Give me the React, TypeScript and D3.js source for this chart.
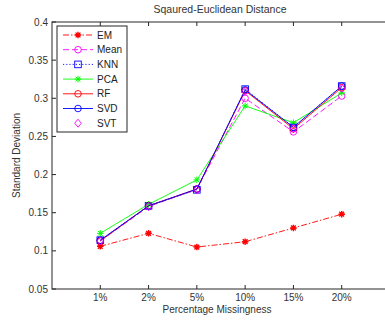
import * as d3 from "d3";

const categories = ["1%", "2%", "5%", "10%", "15%", "20%"];
const yTicks = [0.05, 0.1, 0.15, 0.2, 0.25, 0.3, 0.35, 0.4];

const emValues = [0.106, 0.123, 0.105, 0.112, 0.13, 0.148];
const meanValues = [0.113, 0.158, 0.181, 0.3, 0.256, 0.303];
const knnValues = [0.114, 0.159, 0.18, 0.312, 0.262, 0.316];
const pcaValues = [0.123, 0.161, 0.193, 0.29, 0.268, 0.307];
const rfValues = [0.113, 0.159, 0.181, 0.31, 0.26, 0.314];
const svdValues = [0.114, 0.159, 0.181, 0.311, 0.262, 0.316];
const svtValues = [0.113, 0.158, 0.18, 0.309, 0.26, 0.313];

type Marker = "star" | "circle" | "square" | "pstar" | "diamond";
type Series = { name: string; values: number[]; color: string; dash: string | null; marker: Marker };

const series: Series[] = [
  { name: "EM", values: emValues, color: "#ff0000", dash: "6,2,1.5,2", marker: "star" },
  { name: "Mean", values: meanValues, color: "#ff00ff", dash: "6,3", marker: "circle" },
  { name: "KNN", values: knnValues, color: "#0000ff", dash: "1.2,2", marker: "square" },
  { name: "PCA", values: pcaValues, color: "#00ff00", dash: null, marker: "pstar" },
  { name: "RF", values: rfValues, color: "#ff0000", dash: null, marker: "circle" },
  { name: "SVD", values: svdValues, color: "#0000ff", dash: null, marker: "circle" },
  { name: "SVT", values: svtValues, color: "#ff00ff", dash: "none", marker: "diamond" },
];

const font = "'Liberation Sans', Arial, sans-serif";
const axisColor = "#262626";

function MarkerShape({ kind, x, y, color }: { kind: Marker; x: number; y: number; color: string }) {
  if (kind === "circle") return <circle cx={x} cy={y} r={3.3} fill="none" stroke={color} strokeWidth={0.9} />;
  if (kind === "square") return <rect x={x - 3.3} y={y - 3.3} width={6.6} height={6.6} fill="none" stroke={color} strokeWidth={0.9} />;
  if (kind === "diamond")
    return <path d={`M${x},${y - 4}L${x + 3.3},${y}L${x},${y + 4}L${x - 3.3},${y}Z`} fill="none" stroke={color} strokeWidth={0.9} />;
  // asterisk markers
  const r = 3.3;
  const d = r * 0.72;
  return (
    <path
      d={`M${x - r},${y}L${x + r},${y}M${x},${y - r}L${x},${y + r}M${x - d},${y - d}L${x + d},${y + d}M${x - d},${y + d}L${x + d},${y - d}`}
      stroke={color}
      strokeWidth={kind === "star" ? 1.4 : 1}
      fill="none"
    />
  );
}

export default function App() {
  const width = 385;
  const height = 322;
  const left = 52;
  const right = 390;
  const top = 22;
  const bottom = 289;

  const x = d3.scaleLinear().domain([0, 7]).range([left, right]);
  const y = d3.scaleLinear().domain([0.05, 0.4]).range([bottom, top]);

  const line = d3
    .line<number>()
    .x((_, i) => x(i + 1))
    .y((v) => y(v));

  const legendX = 57;
  const legendY = 26;
  const legendRow = 14.7;

  return (
    <svg width={width} height={height} style={{ position: "absolute", left: 0, top: 0, background: "#fff" }} fontFamily={font}>
      <text x={220} y={13} textAnchor="middle" fontSize={10.5} fill="#333">
        Sqaured-Euclidean Distance
      </text>

      {/* axes box */}
      <rect x={left} y={top} width={right - left} height={bottom - top} fill="none" stroke={axisColor} strokeWidth={1} />

      {yTicks.map((t) => (
        <g key={t}>
          <line x1={left} x2={left + 4} y1={y(t)} y2={y(t)} stroke={axisColor} />
          <line x1={right} x2={right - 4} y1={y(t)} y2={y(t)} stroke={axisColor} />
          <text x={left - 4} y={y(t) + 3.5} textAnchor="end" fontSize={10} fill="#333">
            {String(t)}
          </text>
        </g>
      ))}

      {categories.map((c, i) => (
        <g key={c}>
          <line x1={x(i + 1)} x2={x(i + 1)} y1={bottom} y2={bottom - 4} stroke={axisColor} />
          <line x1={x(i + 1)} x2={x(i + 1)} y1={top} y2={top + 4} stroke={axisColor} />
          <text x={x(i + 1)} y={bottom + 12} textAnchor="middle" fontSize={10} fill="#333">
            {c}
          </text>
        </g>
      ))}

      <text x={217} y={313} textAnchor="middle" fontSize={10} fill="#333">
        Percentage Missingness
      </text>
      <text transform={`translate(20,${(top + bottom) / 2}) rotate(-90)`} textAnchor="middle" fontSize={10} fill="#333">
        Standard Deviation
      </text>

      {series.map((s) => (
        <g key={s.name}>
          {s.dash !== "none" && (
            <path d={line(s.values) ?? undefined} fill="none" stroke={s.color} strokeWidth={0.9} strokeDasharray={s.dash ?? undefined} />
          )}
          {s.values.map((v, i) => (
            <MarkerShape key={i} kind={s.marker} x={x(i + 1)} y={y(v)} color={s.color} />
          ))}
        </g>
      ))}

      {/* legend */}
      <rect x={legendX} y={legendY} width={70} height={106} fill="#fff" stroke={axisColor} strokeWidth={1} />
      {series.map((s, i) => {
        const ly = legendY + 9 + i * legendRow;
        return (
          <g key={s.name}>
            {s.dash !== "none" && (
              <line x1={63} x2={93} y1={ly} y2={ly} stroke={s.color} strokeWidth={0.9} strokeDasharray={s.dash ?? undefined} />
            )}
            <MarkerShape kind={s.marker} x={78} y={ly} color={s.color} />
            <text x={97} y={ly + 3.5} fontSize={10} fill="#222">
              {s.name}
            </text>
          </g>
        );
      })}
    </svg>
  );
}
